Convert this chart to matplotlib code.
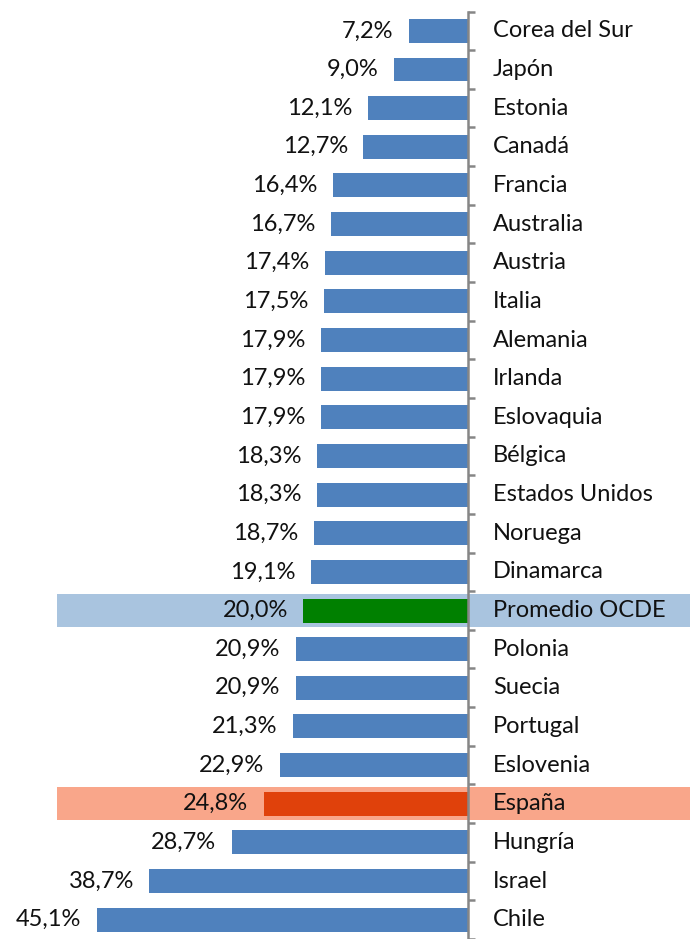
import numpy as np
import matplotlib.pyplot as plt

paises = ["Corea del Sur", "Japón", "Estonia", "Canadá", "Francia", "Australia",
          "Austria", "Italia", "Alemania", "Irlanda", "Eslovaquia", "Bélgica",
          "Estados Unidos", "Noruega", "Dinamarca", "Promedio OCDE", "Polonia",
          "Suecia", "Portugal", "Eslovenia", "España", "Hungría", "Israel", "Chile"]
valores = [7.2, 9.0, 12.1, 12.7, 16.4, 16.7, 17.4, 17.5, 17.9, 17.9, 17.9, 18.3,
           18.3, 18.7, 19.1, 20.0, 20.9, 20.9, 21.3, 22.9, 24.8, 28.7, 38.7, 45.1]

azul = "#4F81BD"
destacados = {"Promedio OCDE": ("#008000", "#A9C4DF"),
              "España": ("#E0410B", "#F9A68A")}

plt.rcParams['font.family'] = ['Lato', 'DejaVu Sans']

fig = plt.figure(figsize=(6.9, 9.39), dpi=100)
ax = fig.add_axes([0, 0, 1, 1])

escala = 8.23  # px per percent
ax.set_xlim(468 / escala, -222 / escala)
paso = 38.8
ax.set_ylim((939 - 31) / paso, -31 / paso)

y = np.arange(len(paises))
colores = [destacados[p][0] if p in destacados else azul for p in paises]

for i, p in enumerate(paises):
    if p in destacados:
        ax.axhspan(i - 0.43, i + 0.43, xmin=57 / 690, xmax=1,
                   color=destacados[p][1], zorder=0, lw=0)

ax.barh(y, valores, height=0.62, color=colores, zorder=2)

for i, (p, v) in enumerate(zip(paises, valores)):
    ax.text(v + 1.9, i, f"{v:.1f}%".replace(".", ","), ha="right", va="center",
            fontsize=17, color="#111111", zorder=3)
    ax.text(-3.05, i, p, ha="left", va="center", fontsize=17, color="#111111", zorder=3)

# eje vertical con marcas entre categorias
for s in ["left", "top", "bottom"]:
    ax.spines[s].set_visible(False)
ax.spines["right"].set_position(("data", 0))
ax.spines["right"].set_bounds(-0.5, len(paises) - 0.2)
ax.spines["right"].set_color("#868686")
ax.spines["right"].set_linewidth(1.8)
ax.spines["right"].set_zorder(4)
ax.yaxis.tick_right()
ax.set_yticks(np.arange(-0.5, len(paises), 1.0))
ax.set_yticklabels([])
ax.tick_params(axis="y", direction="out", length=5, width=1.8, color="#868686")
ax.set_xticks([])

fig.savefig("out.png", dpi=100)
